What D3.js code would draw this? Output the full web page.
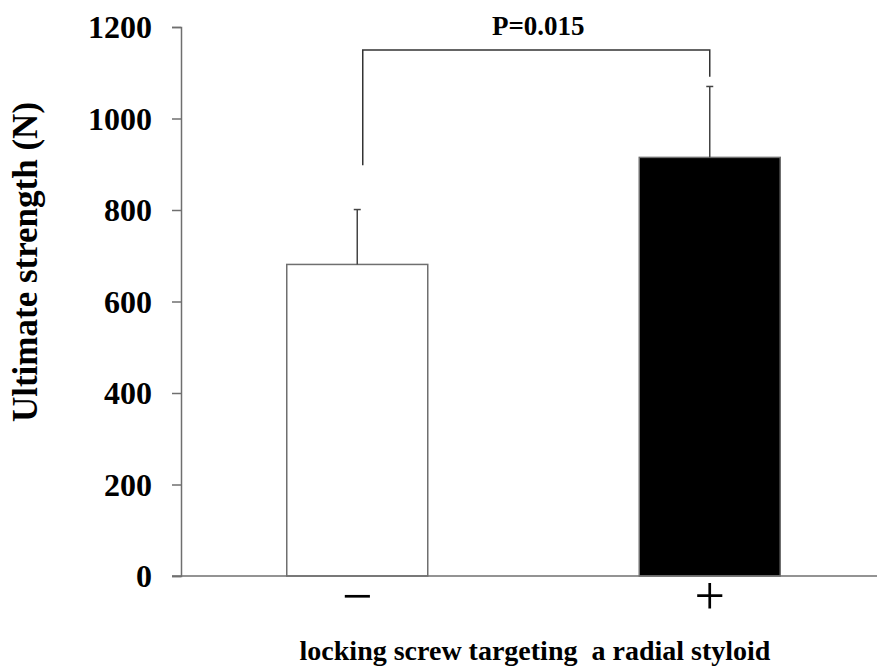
<!DOCTYPE html>
<html>
<head>
<meta charset="utf-8">
<script src="https://cdn.jsdelivr.net/npm/d3@7"></script>
<style>
  body { margin: 0; background: #fff; }
  svg { display: block; font-family: "Liberation Serif", "Times New Roman", serif; }
</style>
</head>
<body>
<div id="chart"></div>
<script>
// données
const groups = ["−", "+"];
const means = [681, 915];
const sds = [120, 155];
const yTicks = [0, 200, 400, 600, 800, 1000, 1200];
const pLabel = "P=0.015";
const bracket = { top: 1150, left: 898, right: 1091 };

const width = 877, height = 668;

const y = d3.scaleLinear().domain([0, 1200]).range([576, 27]);
const x = d3.scaleBand().domain(groups).range([181, 886]).paddingInner(0.6).paddingOuter(0.3);

const svg = d3.select("#chart").append("svg")
    .attr("width", width)
    .attr("height", height);

// axe Y
const yAxis = svg.append("g")
    .attr("transform", "translate(181,0)")
    .call(d3.axisLeft(y).tickValues(yTicks).tickFormat(d3.format("d")).tickSize(9).tickPadding(20));
yAxis.select(".domain").attr("stroke", "#6f6f6f").attr("stroke-width", 1.5);
yAxis.selectAll(".tick line").attr("stroke", "#6f6f6f").attr("stroke-width", 1.5);
yAxis.selectAll("text")
    .style("font-size", "32px")
    .style("font-weight", "bold")
    .style("font-family", "Liberation Serif")
    .attr("fill", "#000")
    .attr("dy", "0.34em");

// barres
svg.selectAll(".bar")
    .data(groups)
    .join("rect")
    .attr("x", d => x(d))
    .attr("width", x.bandwidth())
    .attr("y", (d, i) => y(means[i]))
    .attr("height", (d, i) => y(0) - y(means[i]))
    .attr("fill", (d, i) => i === 0 ? "#fff" : "#000")
    .attr("stroke", "#6f6f6f")
    .attr("stroke-width", 1.5);

// barres d'erreur (vers le haut)
groups.forEach((g, i) => {
    const cx = x(g) + x.bandwidth() / 2;
    svg.append("line")
        .attr("x1", cx).attr("x2", cx)
        .attr("y1", y(means[i])).attr("y2", y(means[i] + sds[i]))
        .attr("stroke", "#444").attr("stroke-width", 1.5);
    svg.append("line")
        .attr("x1", cx - 3.5).attr("x2", cx + 3.5)
        .attr("y1", y(means[i] + sds[i])).attr("y2", y(means[i] + sds[i]))
        .attr("stroke", "#444").attr("stroke-width", 1.5);
});

// axe X (ligne seule)
svg.append("line")
    .attr("x1", 172).attr("x2", width)
    .attr("y1", y(0)).attr("y2", y(0))
    .attr("stroke", "#6f6f6f").attr("stroke-width", 1.5);

const xAxis = svg.append("g")
    .attr("transform", `translate(0,${y(0)})`)
    .call(d3.axisBottom(x).tickSize(0).tickPadding(0));
xAxis.select(".domain").remove();
xAxis.selectAll("text")
    .style("font-size", "54px")
    .style("font-family", "Liberation Serif")
    .style("font-weight", "normal")
    .attr("fill", "#000")
    .attr("dy", null)
    .attr("y", 38);

// crochet de significativité
const bx1 = x(groups[0]) + x.bandwidth() / 2 + 5.5;
const bx2 = x(groups[1]) + x.bandwidth() / 2;
svg.append("path")
    .attr("d", `M${bx1},${y(bracket.left)}V${y(bracket.top)}H${bx2}V${y(bracket.right)}`)
    .attr("fill", "none")
    .attr("stroke", "#333")
    .attr("stroke-width", 1.5);

svg.append("text")
    .attr("x", (bx1 + bx2) / 2 + 2)
    .attr("y", 35)
    .attr("text-anchor", "middle")
    .style("font-size", "27px")
    .style("font-weight", "bold")
    .text(pLabel);

// titres des axes
svg.append("text")
    .attr("transform", "translate(37,262) rotate(-90)")
    .attr("text-anchor", "middle")
    .style("font-size", "35px")
    .style("font-weight", "bold")
    .text("Ultimate strength (N)");

svg.append("text")
    .attr("x", 535)
    .attr("y", 660)
    .attr("text-anchor", "middle")
    .style("font-size", "28px")
    .style("font-weight", "bold")
    .style("white-space", "pre")
    .text("locking screw targeting  a radial styloid");
</script>
</body>
</html>
